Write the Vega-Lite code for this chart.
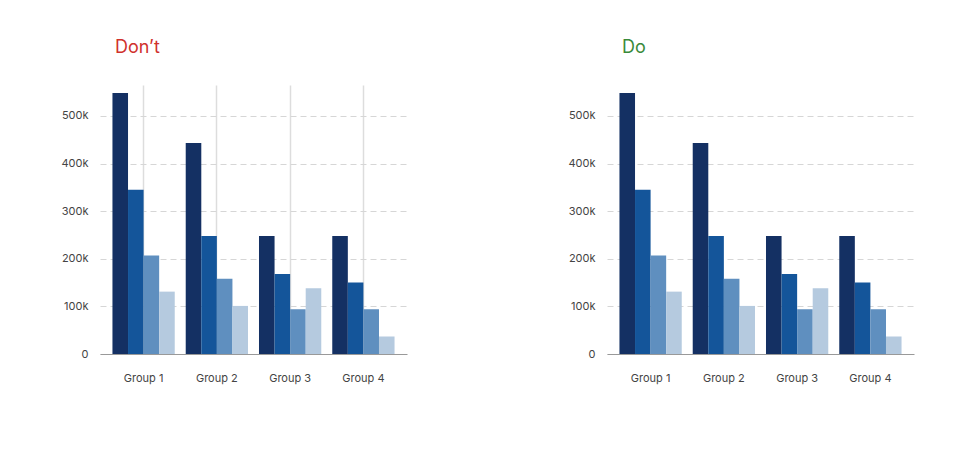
{
  "$schema": "https://vega.github.io/schema/vega-lite/v6.json",
  "background": "white",
  "padding": {"left": 60, "top": 39, "right": 5, "bottom": 5},
  "datasets": {
    "bars": [
      {"group": "Group 1", "series": "A", "value": 548000},
      {"group": "Group 1", "series": "B", "value": 345000},
      {"group": "Group 1", "series": "C", "value": 207000},
      {"group": "Group 1", "series": "D", "value": 131000},
      {"group": "Group 2", "series": "A", "value": 443000},
      {"group": "Group 2", "series": "B", "value": 248000},
      {"group": "Group 2", "series": "C", "value": 158000},
      {"group": "Group 2", "series": "D", "value": 101000},
      {"group": "Group 3", "series": "A", "value": 248000},
      {"group": "Group 3", "series": "B", "value": 168000},
      {"group": "Group 3", "series": "C", "value": 94000},
      {"group": "Group 3", "series": "D", "value": 138000},
      {"group": "Group 4", "series": "A", "value": 248000},
      {"group": "Group 4", "series": "B", "value": 150000},
      {"group": "Group 4", "series": "C", "value": 94000},
      {"group": "Group 4", "series": "D", "value": 37000}
    ]
  },
  "config": {
    "font": "Inter",
    "view": {"stroke": null},
    "axis": {"labelFont": "Inter", "labelFontSize": 11, "labelColor": "#444", "ticks": false},
    "title": {"font": "Inter", "fontSize": 18, "fontWeight": "normal", "anchor": "start", "offset": 28, "dx": 54}
  },
  "spacing": 160,
  "hconcat": [
    {
      "title": {"text": "Don’t", "color": "#d0312d"},
      "width": 307,
      "height": 269,
      "data": {"name": "bars"},
      "mark": {"type": "bar"},
      "encoding": {
        "x": {"field": "group", "type": "nominal", "title": null,
              "scale": {"paddingInner": 0.15, "paddingOuter": 0.17},
              "axis": {"labelAngle": 0, "labelPadding": 18, "domainColor": "#999", "grid": true, "gridColor": "#ddd", "gridWidth": 1.5, "bandPosition": 0.5}},
        "xOffset": {"field": "series", "type": "nominal"},
        "y": {"field": "value", "type": "quantitative", "title": null,
              "scale": {"domain": [0, 565000], "nice": false},
              "axis": {"values": [0, 100000, 200000, 300000, 400000, 500000], "labelExpr": "datum.value == 0 ? '0' : format(datum.value, '~s')", "domain": false, "gridDash": [6, 4], "gridColor": "#d6d6d6", "labelPadding": 12}},
        "color": {"field": "series", "type": "nominal", "legend": null,
                  "scale": {"domain": ["A", "B", "C", "D"], "range": ["#143063", "#14559a", "#5f8fbf", "#b5cadf"]}}
      }
    },
    {
      "title": {"text": "Do", "color": "#3a8a3a"},
      "width": 307,
      "height": 269,
      "data": {"name": "bars"},
      "mark": {"type": "bar"},
      "encoding": {
        "x": {"field": "group", "type": "nominal", "title": null,
              "scale": {"paddingInner": 0.15, "paddingOuter": 0.17},
              "axis": {"labelAngle": 0, "labelPadding": 18, "domainColor": "#999", "grid": false}},
        "xOffset": {"field": "series", "type": "nominal"},
        "y": {"field": "value", "type": "quantitative", "title": null,
              "scale": {"domain": [0, 565000], "nice": false},
              "axis": {"values": [0, 100000, 200000, 300000, 400000, 500000], "labelExpr": "datum.value == 0 ? '0' : format(datum.value, '~s')", "domain": false, "gridDash": [6, 4], "gridColor": "#d6d6d6", "labelPadding": 12}},
        "color": {"field": "series", "type": "nominal", "legend": null,
                  "scale": {"domain": ["A", "B", "C", "D"], "range": ["#143063", "#14559a", "#5f8fbf", "#b5cadf"]}}
      }
    }
  ]
}
